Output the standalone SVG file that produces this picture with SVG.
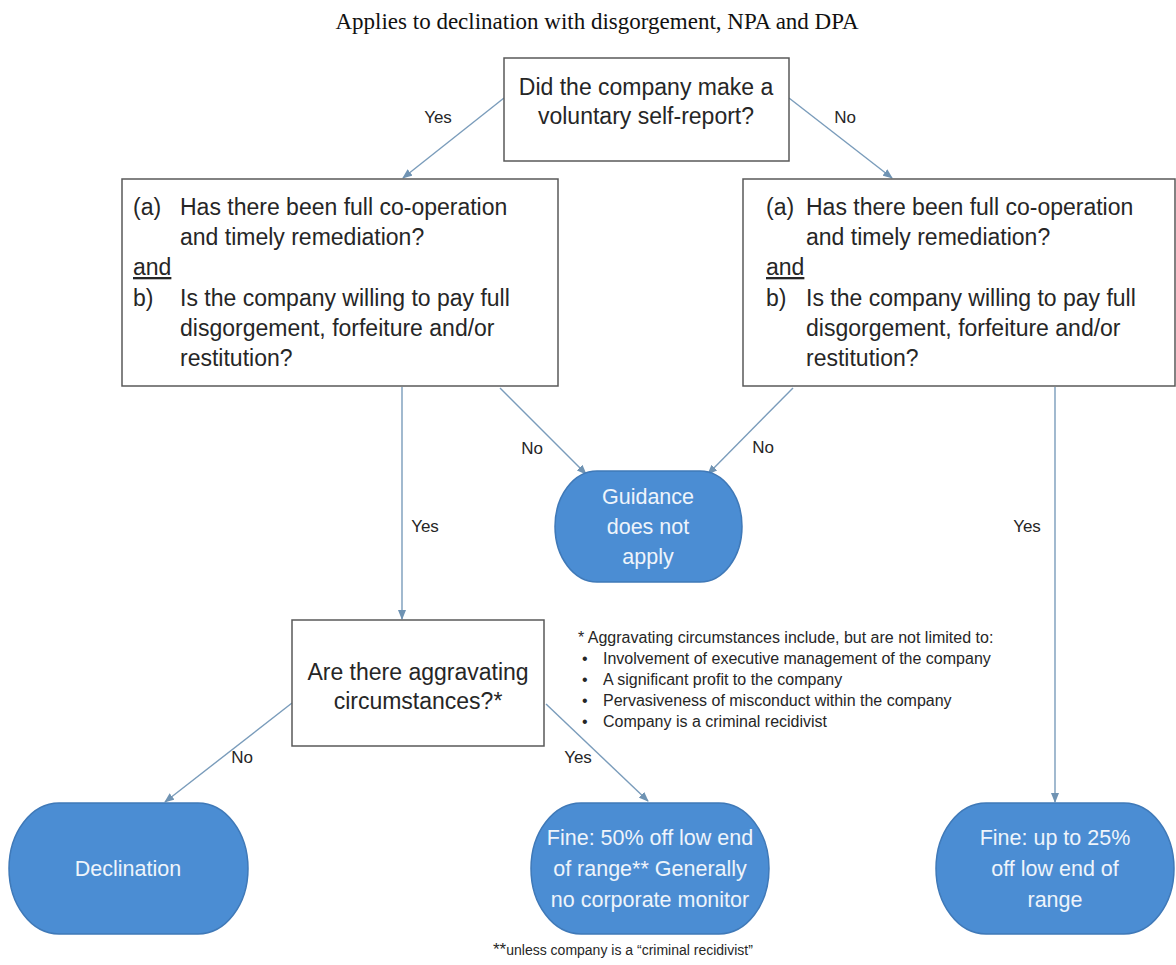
<svg xmlns="http://www.w3.org/2000/svg" width="1176" height="965" viewBox="0 0 1176 965">
<defs>
<marker id="ah" markerWidth="10" markerHeight="8" refX="9" refY="4" orient="auto" markerUnits="userSpaceOnUse">
<path d="M0,0 L10,4 L0,8 Z" fill="#6f93b3"/>
</marker>
<style>
.box{fill:#ffffff;stroke:#595959;stroke-width:1.5}
.term{fill:#4b8dd3;stroke:#3f79b8;stroke-width:1.5}
.t{font-family:"Liberation Sans",Arial,sans-serif;font-size:23px;fill:#262626}
.tw{font-family:"Liberation Sans",Arial,sans-serif;font-size:21.5px;fill:#eef4fb;text-anchor:middle}
.lbl{font-family:"Liberation Sans",Arial,sans-serif;font-size:17px;fill:#262626}
.note{font-family:"Liberation Sans",Arial,sans-serif;font-size:16px;fill:#262626}
.c{stroke:#7a9cbb;stroke-width:1.4;fill:none;marker-end:url(#ah)}
</style>
</defs>
<rect width="1176" height="965" fill="#ffffff"/>
<text x="597" y="29" text-anchor="middle" style="font-family:'Liberation Serif','Times New Roman',serif;font-size:23px;fill:#111">Applies to declination with disgorgement, NPA and DPA</text>

<g id="connectors">
<line class="c" x1="504" y1="98" x2="403" y2="178"/>
<line class="c" x1="789" y1="98" x2="892" y2="178"/>
<line class="c" x1="402" y1="387" x2="402" y2="619"/>
<line class="c" x1="500" y1="388" x2="586" y2="474"/>
<line class="c" x1="793" y1="388" x2="708" y2="474"/>
<line class="c" x1="1055" y1="387" x2="1055" y2="802"/>
<line class="c" x1="292" y1="703" x2="165" y2="802"/>
<line class="c" x1="546" y1="704" x2="648" y2="801"/>
</g>

<g id="labels">
<text class="lbl" x="438" y="123" text-anchor="middle">Yes</text>
<text class="lbl" x="845" y="123" text-anchor="middle">No</text>
<text class="lbl" x="532" y="454" text-anchor="middle">No</text>
<text class="lbl" x="763" y="453" text-anchor="middle">No</text>
<text class="lbl" x="425" y="532" text-anchor="middle">Yes</text>
<text class="lbl" x="1027" y="532" text-anchor="middle">Yes</text>
<text class="lbl" x="242" y="763" text-anchor="middle">No</text>
<text class="lbl" x="578" y="763" text-anchor="middle">Yes</text>
</g>

<g id="q1">
<rect class="box" x="504" y="58" width="285" height="103"/>
<text class="t" x="646" y="95" text-anchor="middle">Did the company make a</text>
<text class="t" x="646" y="124" text-anchor="middle">voluntary self-report?</text>
</g>

<g id="q2-left">
<rect class="box" x="122" y="179" width="436" height="207"/>
<text class="t" x="133" y="215">(a)</text>
<text class="t" x="180" y="215">Has there been full co-operation</text>
<text class="t" x="180" y="245">and timely remediation?</text>
<text class="t" x="133" y="275" text-decoration="underline">and</text>
<text class="t" x="133" y="306">b)</text>
<text class="t" x="180" y="306">Is the company willing to pay full</text>
<text class="t" x="180" y="336">disgorgement, forfeiture and/or</text>
<text class="t" x="180" y="366">restitution?</text>
</g>

<g id="q2-right">
<rect class="box" x="743" y="179" width="432" height="207"/>
<text class="t" x="766" y="215">(a)</text>
<text class="t" x="806" y="215">Has there been full co-operation</text>
<text class="t" x="806" y="245">and timely remediation?</text>
<text class="t" x="766" y="275" text-decoration="underline">and</text>
<text class="t" x="766" y="306">b)</text>
<text class="t" x="806" y="306">Is the company willing to pay full</text>
<text class="t" x="806" y="336">disgorgement, forfeiture and/or</text>
<text class="t" x="806" y="366">restitution?</text>
</g>

<g id="guidance">
<rect class="term" x="555" y="471" width="187" height="111" rx="42" ry="55.5"/>
<text class="tw" x="648" y="504">Guidance</text>
<text class="tw" x="648" y="534">does not</text>
<text class="tw" x="648" y="564">apply</text>
</g>

<g id="q3">
<rect class="box" x="292" y="620" width="252" height="126"/>
<text class="t" x="418" y="680" text-anchor="middle">Are there aggravating</text>
<text class="t" x="418" y="709" text-anchor="middle">circumstances?*</text>
</g>

<g id="note">
<text class="note" x="578" y="643">* Aggravating circumstances include, but are not limited to:</text>
<text class="note" x="582" y="664">•</text>
<text class="note" x="603" y="664">Involvement of executive management of the company</text>
<text class="note" x="582" y="685">•</text>
<text class="note" x="603" y="685">A significant profit to the company</text>
<text class="note" x="582" y="706">•</text>
<text class="note" x="603" y="706">Pervasiveness of misconduct within the company</text>
<text class="note" x="582" y="727">•</text>
<text class="note" x="603" y="727">Company is a criminal recidivist</text>
</g>

<g id="declination">
<rect class="term" x="9" y="803" width="239" height="131" rx="50" ry="65.5"/>
<text class="tw" x="128" y="876">Declination</text>
</g>

<g id="fine50">
<rect class="term" x="531" y="803" width="238" height="131" rx="50" ry="65.5"/>
<text class="tw" x="650" y="845">Fine: 50% off low end</text>
<text class="tw" x="650" y="876">of range** Generally</text>
<text class="tw" x="650" y="907">no corporate monitor</text>
</g>

<g id="fine25">
<rect class="term" x="936" y="803" width="238" height="131" rx="50" ry="65.5"/>
<text class="tw" x="1055" y="845">Fine: up to 25%</text>
<text class="tw" x="1055" y="876">off low end of</text>
<text class="tw" x="1055" y="907">range</text>
</g>

<g id="footnote">
<text x="493" y="955" style="font-family:'Liberation Sans',Arial,sans-serif;fill:#262626"><tspan font-size="17px">**</tspan><tspan font-size="14px">unless company is a “criminal recidivist”</tspan></text>
</g>
</svg>
